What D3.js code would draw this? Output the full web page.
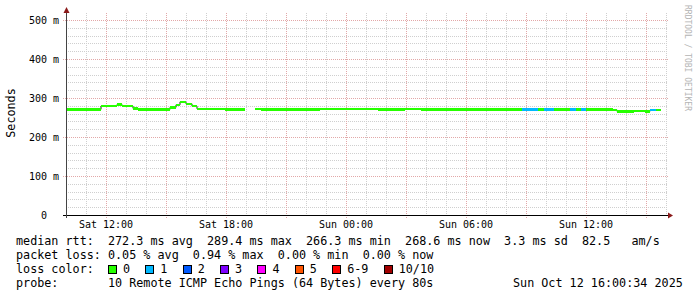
<!DOCTYPE html>
<html>
<head>
<meta charset="utf-8">
<script src="https://cdn.jsdelivr.net/npm/d3@7"></script>
<style>
  body { margin: 0; background: #fff; }
  text { font-family: "DejaVu Sans Mono", monospace; white-space: pre; }
</style>
</head>
<body>
<div id="chart"></div>
<script>
// Median rtt steps: start time of each step, value in ms (null = no data), lost pings of 10
const stepStart = [
  "2025-10-11 10:00", "2025-10-11 11:45", "2025-10-11 12:33", "2025-10-11 12:48",
  "2025-10-11 13:21", "2025-10-11 13:36", "2025-10-11 15:12", "2025-10-11 15:30",
  "2025-10-11 15:42", "2025-10-11 16:00", "2025-10-11 16:18", "2025-10-11 16:33",
  "2025-10-11 17:57", "2025-10-11 18:57", "2025-10-11 19:27", "2025-10-11 19:45",
  "2025-10-11 22:42", "2025-10-12 01:36", "2025-10-12 02:57", "2025-10-12 03:45",
  "2025-10-12 08:48", "2025-10-12 09:36", "2025-10-12 09:54", "2025-10-12 10:24",
  "2025-10-12 11:12", "2025-10-12 11:30", "2025-10-12 11:45", "2025-10-12 12:00",
  "2025-10-12 13:21", "2025-10-12 13:33", "2025-10-12 14:24", "2025-10-12 14:57",
  "2025-10-12 15:12", "2025-10-12 15:30", "2025-10-12 15:45"
];
const medianRtt = [
  270.8, 279.5, 283.3, 279.5,
  273.5, 270.8, 276.0, 282.5,
  290.0, 285.0, 279.0, 272.3,
  270.8, null, 272.3, 270.8,
  272.3, 270.8, 272.3, 270.8,
  270.8, 270.8, 270.8, 270.8,
  270.8, 270.8, 270.8, 270.8,
  269.5, 265.8, 267.0, 265.8,
  269.3, 268.6
];
const lossCount = [
  0, 0, 0, 0,
  0, 0, 0, 0,
  0, 0, 0, 0,
  0, 0, 0, 0,
  0, 0, 0, 0,
  1, 0, 1, 0,
  1, 0, 1, 0,
  0, 0, 0, 0,
  1, 0
];

// loss colour legend
const lossLabels = ["0", "1", "2", "3", "4", "5", "6-9", "10/10"];
const lossColors = ["#26ff00", "#00b8ff", "#0059ff", "#7e00ff", "#ff00ff", "#ff5500", "#ff0000", "#a10000"];

// summary figures
const rttStatNames = ["avg", "max", "min", "now"];
const rttStatValues = [272.3, 289.4, 266.3, 268.6];
const rttSd = 3.3;
const rttAms = 82.5;
const lossStatValues = [0.05, 0.94, 0.00, 0.00];
const probeText = "10 Remote ICMP Echo Pings (64 Bytes) every 80s";
const stampText = "Sun Oct 12 16:00:34 2025";

const yTicks = [0, 100, 200, 300, 400, 500];

const width = 697;
const height = 297;
const parse = d3.timeParse("%Y-%m-%d %H:%M");
const t0 = parse("2025-10-11 10:00");
const t1 = parse("2025-10-12 16:00");

const svg = d3.select("#chart").append("svg")
  .attr("width", width)
  .attr("height", height);

const x = d3.scaleTime().domain([t0, t1]).range([66, 666]);
const y = d3.scaleLinear().domain([0, 500]).range([215, 20]);
const plotTop = 13;

// grid
const grid = svg.append("g").attr("shape-rendering", "crispEdges");
const minorY = d3.range(20, 520, 20).filter((v) => v % 100 !== 0);
grid.selectAll(".hminor").data(minorY).enter().append("line")
  .attr("x1", 66).attr("x2", 668)
  .attr("y1", (d) => Math.round(y(d)) + 0.5).attr("y2", (d) => Math.round(y(d)) + 0.5)
  .attr("stroke", "#cfcfcf").attr("stroke-dasharray", "1,1");
const hours = d3.timeHour.range(d3.timeHour.offset(t0, 1), d3.timeHour.offset(t1, 1));
grid.selectAll(".vminor").data(hours.filter((d) => d.getHours() % 3 !== 0)).enter().append("line")
  .attr("y1", plotTop).attr("y2", 215)
  .attr("x1", (d) => Math.round(x(d)) + 0.5).attr("x2", (d) => Math.round(x(d)) + 0.5)
  .attr("stroke", "#cfcfcf").attr("stroke-dasharray", "1,1");
grid.selectAll(".hmajor").data(yTicks.slice(1)).enter().append("line")
  .attr("x1", 63).attr("x2", 668)
  .attr("y1", (d) => Math.round(y(d)) + 0.5).attr("y2", (d) => Math.round(y(d)) + 0.5)
  .attr("stroke", "#e2a8a8").attr("stroke-dasharray", "1,1");
const majorX = hours.filter((d) => d.getHours() % 3 === 0);
grid.selectAll(".vmajor").data(majorX).enter().append("line")
  .attr("y1", plotTop).attr("y2", 218)
  .attr("x1", (d) => Math.round(x(d)) + 0.5).attr("x2", (d) => Math.round(x(d)) + 0.5)
  .attr("stroke", "#e2a8a8").attr("stroke-dasharray", "1,1");

// median steps
const steps = medianRtt.map((v, i) => ({
  t0: parse(stepStart[i]),
  t1: parse(stepStart[i + 1]),
  v: v,
  loss: lossCount[i],
}));
const half = 3.2;
const lossColor = (n) => n === 0 ? lossColors[0] : n >= 10 ? lossColors[7] : n >= 6 ? lossColors[6] : lossColors[n];

const connector = d3.line()
  .defined((d) => d.v !== null)
  .x((d) => x(d.t0))
  .y((d) => y(d.v))
  .curve(d3.curveStepAfter);
svg.append("path")
  .datum(steps.concat([{ t0: steps[steps.length - 1].t1, v: steps[steps.length - 1].v }]))
  .attr("d", connector)
  .attr("fill", "none")
  .attr("stroke", "#222")
  .attr("stroke-width", 1);

svg.append("g").attr("shape-rendering", "crispEdges")
  .selectAll("rect").data(steps.filter((d) => d.v !== null)).enter().append("rect")
  .attr("x", (d) => x(d.t0))
  .attr("width", (d) => x(d.t1) - x(d.t0))
  .attr("y", (d) => y(d.v + half))
  .attr("height", (d) => y(d.v - half) - y(d.v + half))
  .attr("fill", (d) => lossColor(d.loss));

// axes
const axis = svg.append("g").attr("shape-rendering", "crispEdges");
axis.append("line").attr("x1", 63).attr("x2", 669).attr("y1", 215.5).attr("y2", 215.5)
  .attr("stroke", "#000");
axis.append("line").attr("x1", 66.5).attr("x2", 66.5).attr("y1", 218).attr("y2", 10)
  .attr("stroke", "#444");
svg.append("path").attr("d", "M668,212.5L673,215.5L668,218.5Z").attr("fill", "#8b1a1a");
svg.append("path").attr("d", "M63.5,13L66.5,7L69.5,13Z").attr("fill", "#8b1a1a");

// axis labels
svg.selectAll(".ylab").data(yTicks).enter().append("text")
  .attr("x", 59)
  .attr("y", (d) => y(d) + 3.5)
  .attr("text-anchor", "end")
  .attr("font-size", 10)
  .text((d) => d === 0 ? "0  " : d + " m");
const fmt = d3.timeFormat("%a %H:%M");
svg.selectAll(".xlab").data(majorX.filter((d) => d.getHours() % 6 === 0)).enter().append("text")
  .attr("x", (d) => x(d))
  .attr("y", 228)
  .attr("text-anchor", "middle")
  .attr("font-size", 10)
  .text((d) => fmt(d));

svg.append("text")
  .attr("transform", "translate(15,113) rotate(-90)")
  .attr("text-anchor", "middle")
  .attr("font-size", 11.75)
  .text("Seconds");

svg.append("text")
  .attr("transform", "translate(685,5) rotate(90)")
  .attr("font-size", 8)
  .attr("fill", "#b4b4b4")
  .text("RRDTOOL / TOBI OETIKER");

// legend
const rttLine = "median rtt:  " +
  rttStatValues.map((v, i) => v.toFixed(1) + " ms " + rttStatNames[i]).join("  ") +
  "  " + rttSd.toFixed(1) + " ms sd  " + rttAms.toFixed(1) + "   am/s";
const lossLine = "packet loss: " +
  lossStatValues.map((v, i) => v.toFixed(2) + " % " + rttStatNames[i]).join("  ");
const legend = svg.append("g").attr("font-size", 11.75).attr("fill", "#000");
legend.append("text").attr("x", 16).attr("y", 245).text(rttLine);
legend.append("text").attr("x", 16).attr("y", 259).text(lossLine);
legend.append("text").attr("x", 16).attr("y", 273).text("loss color:");
legend.append("text").attr("x", 16).attr("y", 287).text("probe:       " + probeText);
legend.append("text").attr("x", 513).attr("y", 287).text(stampText);

let sx = 108;
lossLabels.forEach((lab, i) => {
  legend.append("rect")
    .attr("x", sx + 0.5).attr("y", 265.5).attr("width", 8).attr("height", 8)
    .attr("fill", lossColors[i]).attr("stroke", "#000").attr("shape-rendering", "crispEdges");
  legend.append("text").attr("x", sx + 15).attr("y", 273).text(lab);
  sx += 15 + 7.07 * lab.length + 15.3;
});
</script>
</body>
</html>
